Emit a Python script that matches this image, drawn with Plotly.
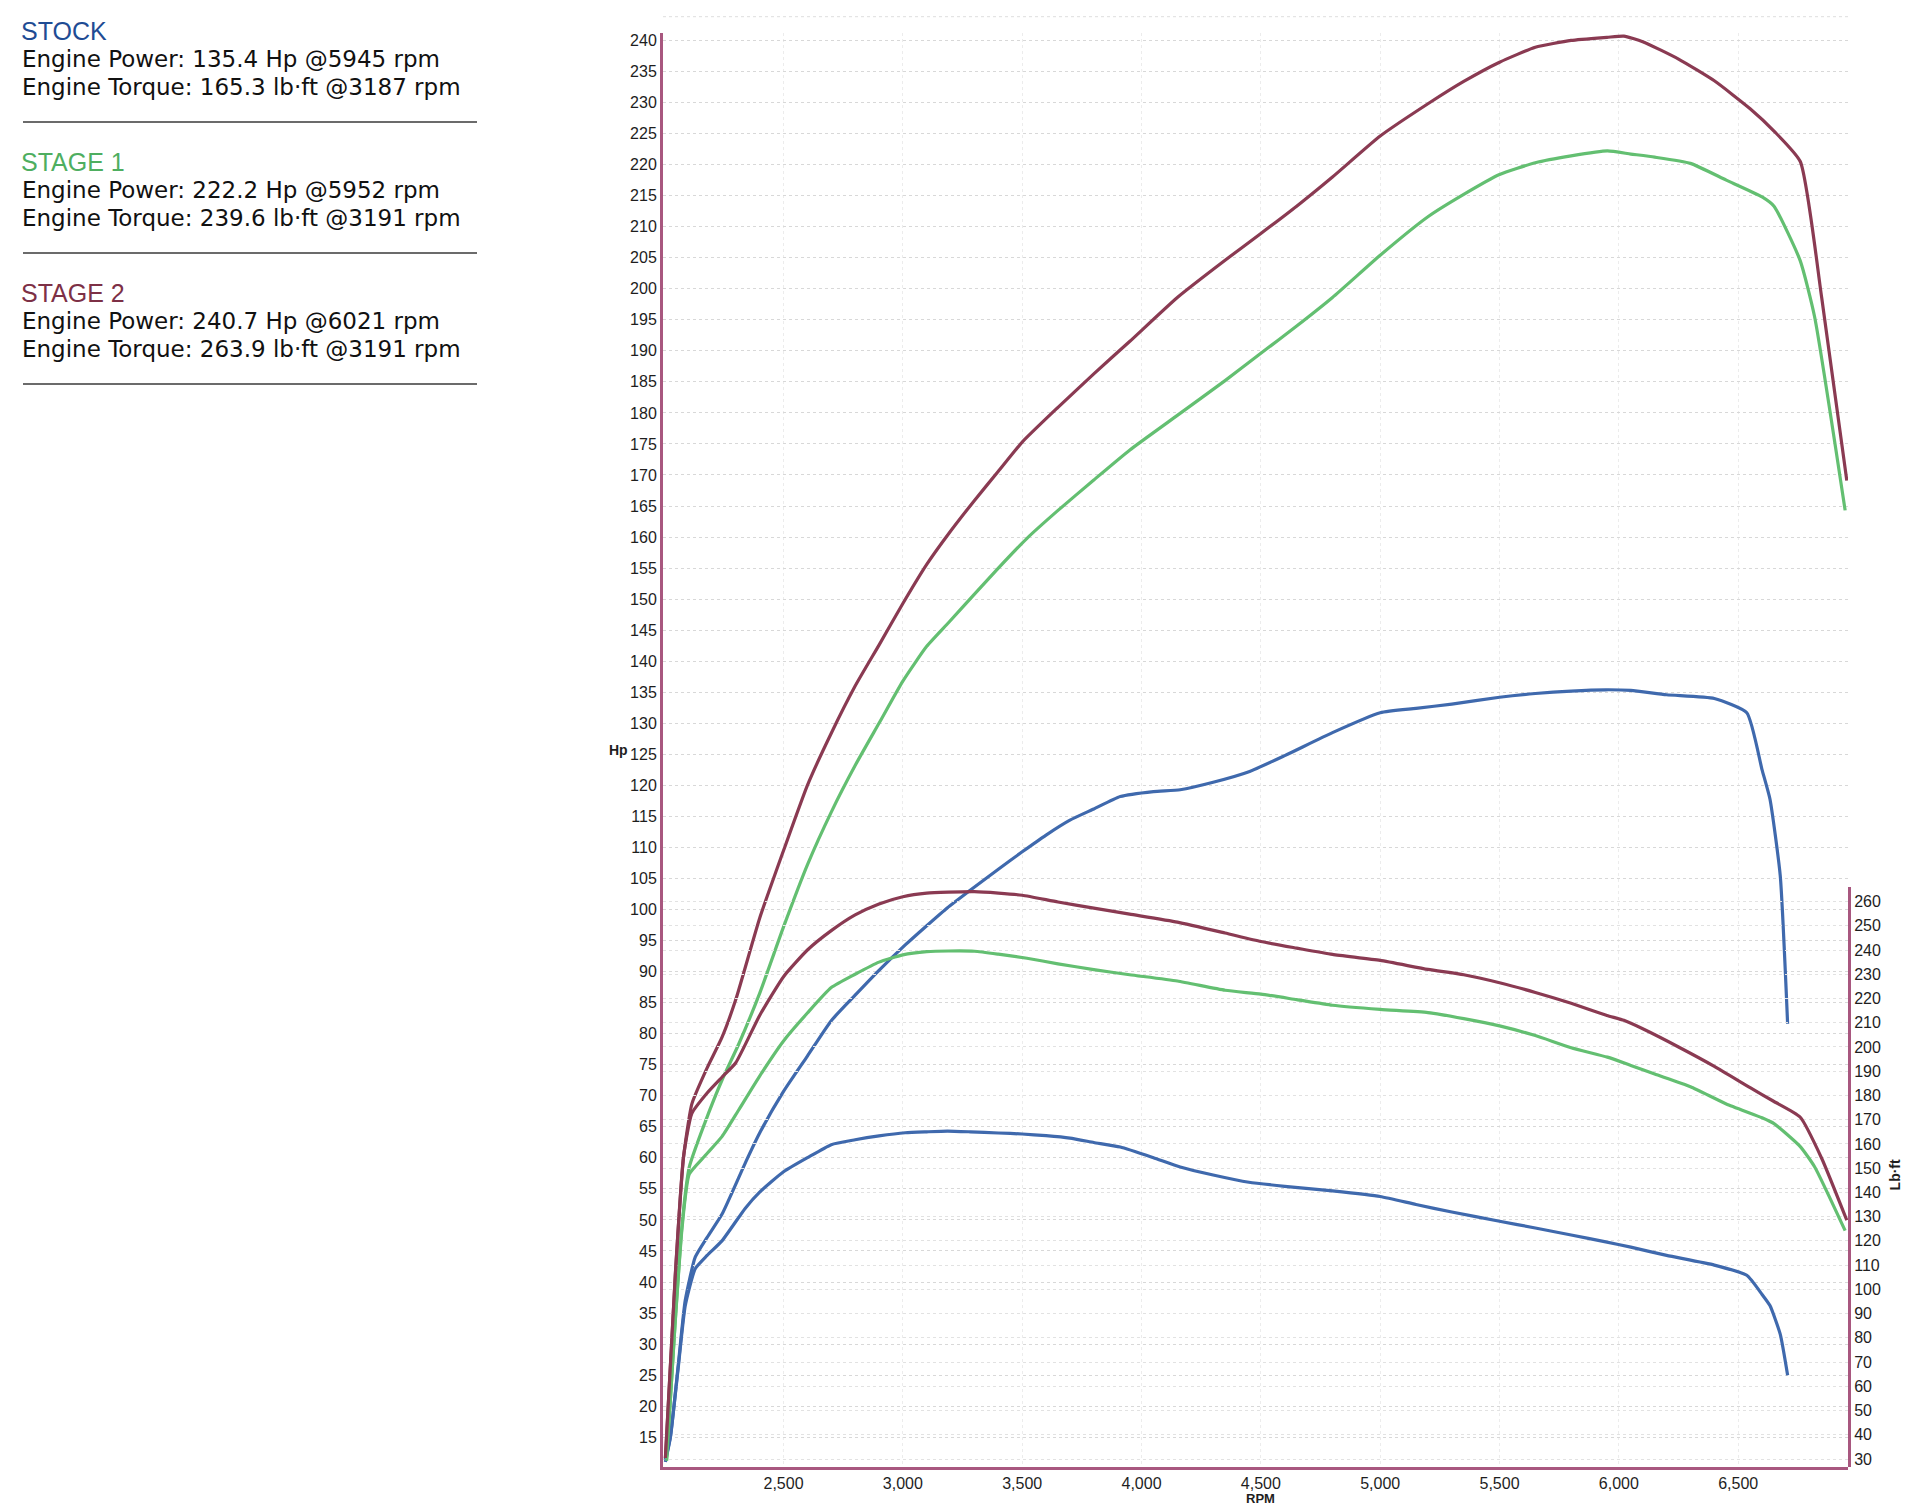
import plotly.graph_objects as go

# ---- dyno readings ----
stock_rpm = [2005, 2026, 2060, 2088, 2130, 2180, 2242, 2340, 2400, 2500, 2600, 2700, 2800, 2900, 3010,
             3100, 3187, 3282, 3400, 3500, 3600, 3700, 3800, 3911, 4050, 4162, 4300, 4450, 4600, 4800,
             5000, 5150, 5300, 5500, 5650, 5800, 5945, 6050, 6200, 6400, 6536, 6600, 6633, 6676, 6707]
stock_hp = [11.0, 15.0, 27.0, 37.0, 44.0, 47.2, 50.9, 59.2, 64.0, 70.7, 76.4, 82.1, 86.2, 90.2, 94.3,
            97.4, 100.3, 103.1, 106.5, 109.3, 112.0, 114.4, 116.2, 118.2, 119.0, 119.3, 120.5, 122.2, 124.8, 128.5,
            131.7, 132.4, 133.1, 134.2, 134.8, 135.2, 135.4, 135.3, 134.6, 134.0, 131.7, 122.5, 117.8, 105.5, 81.6]
stock_tq = [29.6, 39.2, 68.8, 93.1, 108.5, 114.0, 120.0, 133.5, 140.1, 148.5, 154.3, 159.7, 161.7, 163.3, 164.6,
            165.0, 165.3, 165.0, 164.5, 164.1, 163.4, 162.4, 160.6, 158.7, 154.3, 150.5, 147.2, 144.2, 142.5, 140.6,
            138.3, 135.0, 131.9, 128.1, 125.3, 122.4, 119.6, 117.4, 114.0, 110.0, 105.8, 97.9, 93.3, 81.5, 64.6]

stage1_rpm = [2010, 2045, 2075, 2105, 2170, 2242, 2312, 2400, 2500, 2600, 2700, 2800, 2900, 3000, 3100,
              3191, 3300, 3400, 3520, 3650, 3800, 3950, 4150, 4350, 4500, 4650, 4800, 5000, 5200, 5350,
              5500, 5650, 5800, 5952, 6050, 6150, 6300, 6450, 6600, 6650, 6760, 6820, 6948]
stage1_hp = [11.2, 33.0, 49.3, 58.5, 65.6, 72.5, 78.3, 86.5, 97.2, 107.2, 115.7, 123.2, 130.0, 136.8, 142.4,
             146.2, 150.8, 155.0, 159.8, 164.3, 169.2, 174.0, 179.6, 185.2, 189.6, 194.0, 198.6, 205.4, 211.6, 215.2,
             218.4, 220.3, 221.4, 222.2, 221.7, 221.2, 220.2, 217.5, 214.8, 213.3, 204.5, 195.5, 164.3]
stage1_tq = [29.6, 84.8, 125.5, 147.5, 155.0, 163.0, 174.0, 188.0, 202.5, 214.0, 224.5, 230.0, 235.0, 238.0, 239.3,
             239.6, 239.5, 238.3, 236.6, 234.3, 231.9, 229.8, 227.2, 223.4, 221.8, 219.5, 217.2, 215.5, 214.2, 211.7,
             208.7, 204.7, 199.7, 195.8, 192.4, 188.8, 183.6, 176.5, 170.8, 168.4, 158.9, 150.6, 124.2]

stage2_rpm = [2005, 2047, 2081, 2116, 2180, 2242, 2300, 2400, 2500, 2600, 2700, 2800, 2900, 3000, 3100,
              3191, 3300, 3400, 3500, 3650, 3800, 3950, 4150, 4350, 4500, 4650, 4800, 5000, 5200, 5350,
              5500, 5650, 5800, 5950, 6021, 6100, 6250, 6400, 6550, 6650, 6760, 6850, 6955]
stage2_hp = [11.5, 41.3, 60.1, 68.7, 74.5, 79.4, 85.5, 98.6, 109.5, 120.0, 128.4, 136.0, 142.6, 149.3, 155.6,
             160.5, 165.9, 170.6, 175.3, 180.9, 186.3, 191.5, 198.6, 204.6, 208.9, 213.3, 218.0, 224.6, 229.8, 233.4,
             236.5, 238.9, 240.0, 240.5, 240.7, 239.8, 237.0, 233.5, 229.0, 225.4, 220.5, 198.5, 169.1]
stage2_tq = [30.4, 106.8, 154.7, 172.6, 181.0, 187.5, 193.5, 213.0, 229.0, 240.0, 248.0, 254.5, 259.0, 262.0, 263.5,
             263.9, 264.1, 263.5, 262.6, 259.8, 257.3, 254.8, 251.5, 247.0, 243.5, 240.8, 238.2, 235.7, 232.0, 229.8,
             226.5, 222.5, 218.0, 213.0, 211.0, 207.5, 200.0, 192.0, 183.2, 177.5, 171.0, 154.0, 128.5]

# summary box
stage_names = ["STOCK", "STAGE 1", "STAGE 2"]
peak_hp = [135.4, 222.2, 240.7]
peak_hp_rpm = [5945, 5952, 6021]
peak_tq = [165.3, 239.6, 263.9]
peak_tq_rpm = [3187, 3191, 3191]

# axis ticks
rpm_ticks = [2500, 3000, 3500, 4000, 4500, 5000, 5500, 6000, 6500]
rpm_labels = ["2,500", "3,000", "3,500", "4,000", "4,500", "5,000", "5,500", "6,000", "6,500"]
hp_ticks = list(range(15, 241, 5))
tq_ticks = list(range(30, 261, 10))

# ---- styling ----
BLUE = "#3f69ad"
GREEN = "#63bf71"
MAROON = "#8a3a52"
TITLE_COLORS = ["#1f4c94", "#4eae60", "#7d3046"]
AXIS = "#a8577f"
FONT = "Liberation Sans"
BODY_FONT = "DejaVu Sans"

# page pixels (the html body adds an 8px margin around the figure)
OFF = 8
W, H = 1920, 1504
L, R, T, B = 663 - OFF, 1848 - OFF, 33 - OFF, 1467 - OFF


def px_x(x):
    return (x - OFF - L) / (R - L)


def px_y(y):
    return (B - (y - OFF)) / (B - T)


fig = go.Figure()

curves = [(stock_rpm, stock_hp, stock_tq, BLUE),
          (stage1_rpm, stage1_hp, stage1_tq, GREEN),
          (stage2_rpm, stage2_hp, stage2_tq, MAROON)]

for i, (rpm, hp, tq, col) in enumerate(curves):
    fig.add_trace(go.Scatter(x=rpm, y=hp, mode="lines", name=stage_names[i] + " Hp",
                             line=dict(color=col, width=3.2, shape="spline", smoothing=0.5)))
    fig.add_trace(go.Scatter(x=rpm, y=tq, mode="lines", name=stage_names[i] + " Lb·ft",
                             xaxis="x2", yaxis="y2",
                             line=dict(color=col, width=3.2, shape="spline", smoothing=0.5)))

tick_font = dict(family=FONT, size=16, color="#1e1e1e")

fig.update_layout(
    width=W, height=H,
    paper_bgcolor="white", plot_bgcolor="rgba(0,0,0,0)",
    showlegend=False,
    margin=dict(l=L, r=W - R, t=T, b=H - B, pad=0),
    font=dict(family=FONT, color="#1e1e1e"),
    xaxis=dict(range=[1995, 6960], tickvals=rpm_ticks, ticktext=rpm_labels,
               showgrid=True, gridcolor="#ececec", griddash="dot", gridwidth=1,
               showline=True, linecolor=AXIS, linewidth=3, ticks="",
               zeroline=False, tickfont=tick_font),
    yaxis=dict(range=[10.2, 241.2], tickvals=hp_ticks,
               showgrid=True, gridcolor="#d8d8d8", griddash="dot", gridwidth=1,
               showline=True, linecolor=AXIS, linewidth=3, ticks="",
               zeroline=False, tickfont=tick_font),
    xaxis2=dict(range=[1995, 6960], matches="x", anchor="y2", visible=False),
    yaxis2=dict(domain=[0, px_y(887)], anchor="x2", side="right",
                range=[26.7, 266], tickvals=tq_ticks,
                showgrid=True, gridcolor="#e2e2e2", griddash="dot", gridwidth=1,
                showline=True, linecolor=AXIS, linewidth=3, ticks="",
                zeroline=False, tickfont=tick_font),
)

# axis titles
fig.add_annotation(text="<b>Hp</b>", x=0, xref="paper", xanchor="right", xshift=-33,
                   y=125.7, yref="y", yanchor="middle", showarrow=False,
                   font=dict(family=FONT, size=14, color="#1e1e1e"))
fig.add_annotation(text="<b>Lb·ft</b>", x=1, xref="paper", xanchor="center", xshift=47,
                   y=147, yref="y2", yanchor="middle", textangle=-90, showarrow=False,
                   font=dict(family=FONT, size=14, color="#1e1e1e"))
fig.add_annotation(text="<b>RPM</b>", x=4500, xref="x", xanchor="center",
                   y=px_y(1489), yref="paper", yanchor="top", showarrow=False,
                   font=dict(family=FONT, size=13, color="#1e1e1e"))

# faint dotted border line above the plot
fig.add_shape(type="line", xref="paper", yref="paper", x0=0, x1=1, y0=px_y(16.7), y1=px_y(16.7),
              line=dict(color="#dedede", width=1, dash="dot"))

# summary panel
for i, name in enumerate(stage_names):
    off = i * 131
    fig.add_annotation(text=name, x=px_x(20), y=px_y(30.7 + off), xref="paper", yref="paper",
                       xanchor="left", yanchor="middle", showarrow=False, borderpad=0,
                       font=dict(family=FONT, size=25, color=TITLE_COLORS[i]))
    fig.add_annotation(text="Engine Power: %.1f Hp @%d rpm" % (peak_hp[i], peak_hp_rpm[i]),
                       x=px_x(21), y=px_y(58.7 + off), xref="paper", yref="paper",
                       xanchor="left", yanchor="middle", showarrow=False, borderpad=0,
                       font=dict(family=BODY_FONT, size=23, color="#111111"))
    fig.add_annotation(text="Engine Torque: %.1f lb·ft @%d rpm" % (peak_tq[i], peak_tq_rpm[i]),
                       x=px_x(21), y=px_y(86.7 + off), xref="paper", yref="paper",
                       xanchor="left", yanchor="middle", showarrow=False, borderpad=0,
                       font=dict(family=BODY_FONT, size=23, color="#111111"))
    fig.add_shape(type="line", xref="paper", yref="paper",
                  x0=px_x(23), x1=px_x(477), y0=px_y(122 + off), y1=px_y(122 + off),
                  line=dict(color="#3a3a3a", width=1.6))

fig.write_html("out.html")
